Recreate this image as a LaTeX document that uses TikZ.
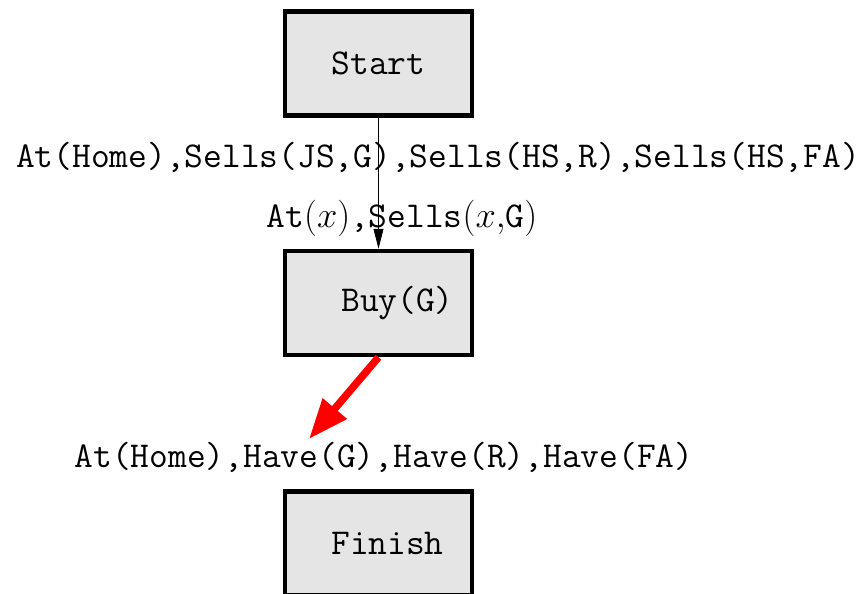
\RequirePackage{fix-cm}
\documentclass[tikz,border=0pt]{standalone}
\usepackage{tikz}
\usetikzlibrary{arrows.meta,positioning}
\definecolor{boxgray}{RGB}{229,229,229}

\begin{document}
\begin{tikzpicture}[x=1pt, y=-1pt,
    box/.style={draw=black, fill=boxgray, line width=4.5pt, minimum width=187pt, minimum height=104pt, inner sep=0pt,
                font=\fontsize{36.4}{40}\selectfont\ttfamily},
    lbl/.style={anchor=base, inner sep=0pt, font=\fontsize{36.4}{40}\selectfont\ttfamily}]
    \useasboundingbox (0,0) rectangle (862,594);
    % Steps
    \node[box] (start) at (378.5,63.5) {Start};
    \node[box] (buy) at (378.5,303) {\hspace*{38pt}Buy(G)};
    \node[box] (finish) at (378.5,543.5) {\hspace*{18pt}Finish};
    % Conditions
    \node[lbl] (init) at (438,167) {At(Home),Sells(JS,G),Sells(HS,R),Sells(HS,FA)};
    \node[lbl] (pre) at (402,227) {At$(x)$,Sells$(x,$G$)$};
    \node[lbl] (goal) at (384,467) {At(Home),Have(G),Have(R),Have(FA)};
    \coordinate (tip) at (309,439);
    % Links
    \draw[line width=0.8pt, -{Triangle[length=20pt,width=10pt]}] (start) -- (buy);
    \draw[red, line width=7.5pt, -{Triangle[length=40pt,width=30pt]}] (buy.south) -- (tip);
\end{tikzpicture}
\end{document}
